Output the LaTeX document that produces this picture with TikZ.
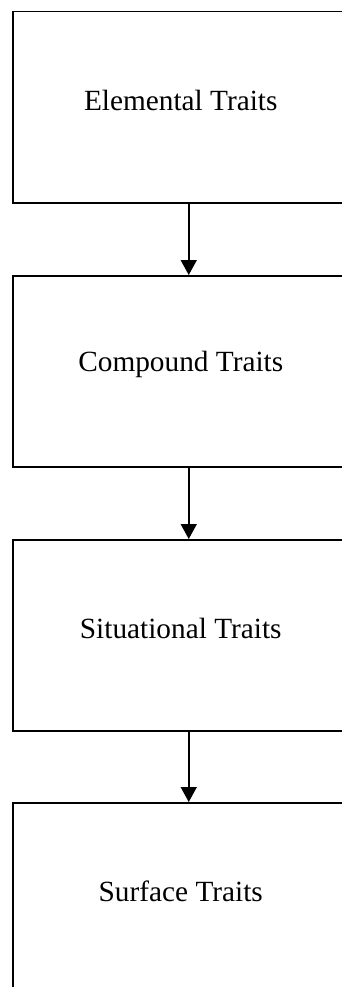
\documentclass[tikz,border=0pt]{standalone}
\usepackage{fontspec}
\setmainfont{Liberation Serif}
\usetikzlibrary{arrows.meta}
\begin{document}
\begin{tikzpicture}[x=1pt,y=-1pt,
  box/.style={draw=black, line width=1.5pt, minimum width=336pt, minimum height=191pt, inner sep=0pt, anchor=north west},
  txt/.style={font=\fontsize{29.3}{34}\selectfont, inner sep=0pt},
  arr/.style={line width=1.5pt, -{Triangle[length=15pt,width=16pt]}}]
\useasboundingbox (0,0) rectangle (342,987);
\clip (0,0) rectangle (342,987);
\node[box] (b1) at (12,11) {};
\node[box] (b2) at (12,275) {};
\node[box] (b3) at (12,539) {};
\node[box] (b4) at (12,802) {};
\node[txt] (t1) at ([yshift=-89pt]b1.north) {Elemental Traits};
\node[txt] (t2) at ([yshift=-89pt]b2.north) {Compound Traits};
\node[txt] (t3) at ([yshift=-89pt]b3.north) {Situational Traits};
\node[txt] (t4) at ([yshift=-89pt]b4.north) {Surface Traits};
\draw[arr] ([xshift=8pt]b1.south) -- ([xshift=8pt]b2.north);
\draw[arr] ([xshift=8pt]b2.south) -- ([xshift=8pt]b3.north);
\draw[arr] ([xshift=8pt]b3.south) -- ([xshift=8pt]b4.north);
\end{tikzpicture}
\end{document}
